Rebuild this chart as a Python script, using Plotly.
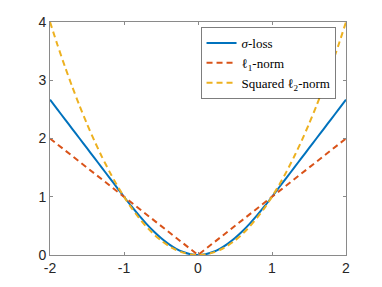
import plotly.graph_objects as go

x_vals = [-2.0, -1.9, -1.8, -1.7, -1.6, -1.5, -1.4, -1.3, -1.2, -1.1, -1.0,
          -0.9, -0.8, -0.7, -0.6, -0.5, -0.4, -0.3, -0.2, -0.1, 0.0,
          0.1, 0.2, 0.3, 0.4, 0.5, 0.6, 0.7, 0.8, 0.9, 1.0,
          1.1, 1.2, 1.3, 1.4, 1.5, 1.6, 1.7, 1.8, 1.9, 2.0]

sigma_loss = [2.667, 2.5, 2.333, 2.167, 2.0, 1.833, 1.667, 1.5, 1.333, 1.167, 1.0,
              0.837, 0.683, 0.539, 0.408, 0.292, 0.192, 0.111, 0.051, 0.013, 0.0,
              0.013, 0.051, 0.111, 0.192, 0.292, 0.408, 0.539, 0.683, 0.837, 1.0,
              1.167, 1.333, 1.5, 1.667, 1.833, 2.0, 2.167, 2.333, 2.5, 2.667]

l1_norm = [2.0, 1.9, 1.8, 1.7, 1.6, 1.5, 1.4, 1.3, 1.2, 1.1, 1.0,
           0.9, 0.8, 0.7, 0.6, 0.5, 0.4, 0.3, 0.2, 0.1, 0.0,
           0.1, 0.2, 0.3, 0.4, 0.5, 0.6, 0.7, 0.8, 0.9, 1.0,
           1.1, 1.2, 1.3, 1.4, 1.5, 1.6, 1.7, 1.8, 1.9, 2.0]

l2_squared = [4.0, 3.61, 3.24, 2.89, 2.56, 2.25, 1.96, 1.69, 1.44, 1.21, 1.0,
              0.81, 0.64, 0.49, 0.36, 0.25, 0.16, 0.09, 0.04, 0.01, 0.0,
              0.01, 0.04, 0.09, 0.16, 0.25, 0.36, 0.49, 0.64, 0.81, 1.0,
              1.21, 1.44, 1.69, 1.96, 2.25, 2.56, 2.89, 3.24, 3.61, 4.0]

series_names = ["<i>σ</i>-loss", "ℓ<sub>1</sub>-norm", "Squared ℓ<sub>2</sub>-norm"]
x_ticks = [-2, -1, 0, 1, 2]
y_ticks = [0, 1, 2, 3, 4]

fig = go.Figure()
fig.add_trace(go.Scatter(x=x_vals, y=sigma_loss, mode="lines", name=series_names[0],
                         line=dict(color="#0072BD", width=2, shape="spline", smoothing=0.6)))
fig.add_trace(go.Scatter(x=x_vals, y=l1_norm, mode="lines", name=series_names[1],
                         line=dict(color="#D95319", width=2, dash="6px,4px")))
fig.add_trace(go.Scatter(x=x_vals, y=l2_squared, mode="lines", name=series_names[2],
                         line=dict(color="#EDB120", width=2, dash="6px,4px", shape="spline", smoothing=0.6)))

axis_common = dict(showgrid=False, zeroline=False, showline=True, linecolor="#8a8a8a",
                   linewidth=1, mirror="ticks", ticks="inside", ticklen=3, tickcolor="#8a8a8a",
                   automargin=False,
                   tickfont=dict(family="Liberation Sans, Arial, sans-serif", size=14, color="#262626"))

fig.update_xaxes(range=[-2, 2], tickvals=x_ticks, ticktext=[str(v) for v in x_ticks], **axis_common)
fig.update_yaxes(range=[0, 4], tickvals=y_ticks, ticktext=[str(v) for v in y_ticks], **axis_common)

# page body adds an 8px offset, so the figure is 8px smaller and margins shifted
fig.update_layout(
    width=374, height=279,
    margin=dict(l=42, r=36, t=14, b=32),
    plot_bgcolor="white", paper_bgcolor="white",
    legend=dict(x=0.966, y=0.977, xanchor="right", yanchor="top",
                bgcolor="white", bordercolor="#262626", borderwidth=0.6,
                font=dict(family="Liberation Serif, Times New Roman, serif", size=13, color="black"),
                tracegroupgap=0, itemwidth=30),
    showlegend=True,
)

fig.write_html("out.html")
